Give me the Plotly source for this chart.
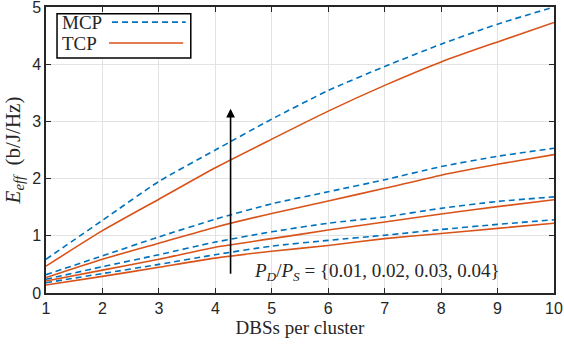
import plotly.graph_objects as go

dbs = [1, 2, 3, 4, 5, 6, 7, 8, 9, 10]
ratios = ["0.01", "0.02", "0.03", "0.04"]

mcp = [
    [0.18, 0.34, 0.50, 0.67, 0.82, 0.92, 1.01, 1.11, 1.20, 1.28],
    [0.24, 0.46, 0.67, 0.89, 1.07, 1.22, 1.33, 1.48, 1.60, 1.68],
    [0.32, 0.65, 0.98, 1.29, 1.56, 1.77, 1.98, 2.21, 2.39, 2.53],
    [0.59, 1.27, 1.95, 2.50, 3.04, 3.54, 3.96, 4.35, 4.70, 5.00],
]
tcp = [
    [0.14, 0.29, 0.45, 0.61, 0.73, 0.83, 0.95, 1.04, 1.13, 1.22],
    [0.21, 0.40, 0.59, 0.80, 0.95, 1.10, 1.24, 1.38, 1.51, 1.63],
    [0.27, 0.59, 0.87, 1.15, 1.39, 1.61, 1.83, 2.06, 2.25, 2.42],
    [0.47, 1.09, 1.64, 2.19, 2.69, 3.18, 3.63, 4.04, 4.39, 4.73],
]

BLUE = "#0072BD"
ORANGE = "#D95319"
AX = "#262626"
SERIF = "Liberation Serif, Times New Roman, serif"

fig = go.Figure()
for r, ys in zip(ratios, mcp):
    fig.add_trace(go.Scatter(x=dbs, y=ys, mode="lines", name="MCP " + r,
                             line=dict(color=BLUE, width=1.6, dash="6px,4px",
                                       shape="spline", smoothing=0.6),
                             showlegend=False))
for r, ys in zip(ratios, tcp):
    fig.add_trace(go.Scatter(x=dbs, y=ys, mode="lines", name="TCP " + r,
                             line=dict(color=ORANGE, width=1.6,
                                       shape="spline", smoothing=0.6),
                             showlegend=False))

axis_common = dict(
    showline=True, linecolor=AX, linewidth=1.5, mirror="ticks",
    ticks="inside", ticklen=5, tickwidth=1.2, tickcolor=AX,
    showgrid=True, gridcolor="#E3E3E3", gridwidth=1.2,
    zeroline=False, automargin=False, ticklabeloverflow="allow",
    tickfont=dict(family="Liberation Sans, Arial, sans-serif", size=16, color=AX),
)

fig.update_xaxes(range=[1, 10], tickvals=dbs, **axis_common,
                 title=dict(text="DBSs per cluster", standoff=4,
                            font=dict(family=SERIF, size=19, color=AX)))
fig.update_yaxes(range=[0, 5], tickvals=[0, 1, 2, 3, 4, 5], **axis_common,
                 title=dict(text="<i>E</i><sub><i>eff</i></sub>\u00a0\u00a0(b/J/Hz)", standoff=6,
                            font=dict(family=SERIF, size=21, color=AX)))

# arrow
fig.add_annotation(x=4.27, y=3.22, ax=4.27, ay=0.31, xref="x", yref="y",
                   axref="x", ayref="y", text="", showarrow=True,
                   arrowhead=2, arrowsize=1.1, arrowwidth=1.6, arrowcolor="black")
fig.add_annotation(x=6.86, y=0.37, xref="x", yref="y", showarrow=False,
                   text="<i>P</i><sub><i>D</i></sub>/<i>P</i><sub><i>S</i></sub> = {0.01, 0.02, 0.03, 0.04}",
                   font=dict(family=SERIF, size=19, color=AX))

# legend (text then line sample, as in the reference)
fig.add_shape(type="rect", xref="paper", yref="paper", x0=0.0217, x1=0.285,
              y0=0.822, y1=0.976, line=dict(color="black", width=1.5),
              fillcolor="white", layer="above")
fig.add_shape(type="line", xref="paper", yref="paper", x0=0.13, x1=0.275,
              y0=0.947, y1=0.947, line=dict(color=BLUE, width=1.6, dash="6px,4px"),
              layer="above")
fig.add_shape(type="line", xref="paper", yref="paper", x0=0.124, x1=0.27,
              y0=0.874, y1=0.874, line=dict(color=ORANGE, width=1.6), layer="above")
fig.add_annotation(x=0.027, y=0.947, xref="paper", yref="paper", xanchor="left",
                   yanchor="middle", showarrow=False, text="MCP",
                   font=dict(family=SERIF, size=19, color=AX))
fig.add_annotation(x=0.027, y=0.874, xref="paper", yref="paper", xanchor="left",
                   yanchor="middle", showarrow=False, text="TCP",
                   font=dict(family=SERIF, size=19, color=AX))

fig.update_layout(
    width=564, height=346,
    margin=dict(l=46, r=10, t=7, b=53),
    paper_bgcolor="white", plot_bgcolor="white",
    showlegend=False,
)

fig.write_html("out.html", config={"displayModeBar": False},
               post_script="document.body.style.margin='0';document.body.style.overflow='hidden';")
